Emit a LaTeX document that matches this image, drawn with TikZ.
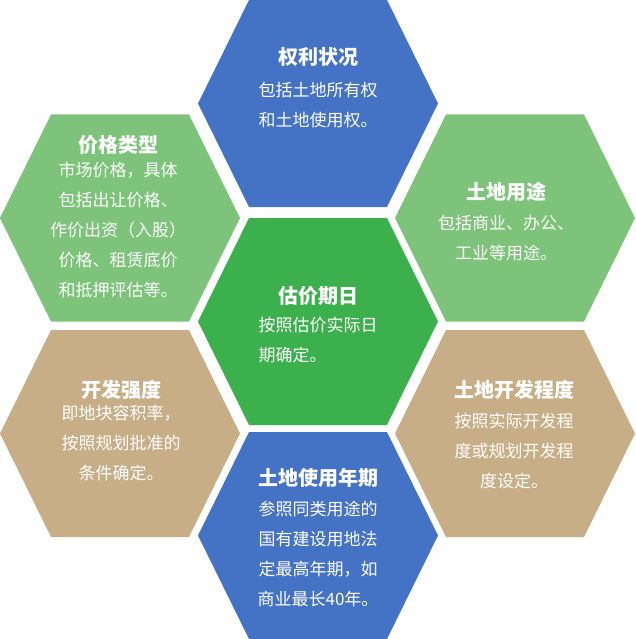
\documentclass[tikz,border=0pt]{standalone}
\usepackage{fontspec}
\setmainfont{Noto Sans CJK SC}
\begin{document}
\begin{tikzpicture}[x=1pt,y=-1pt,
  hexblue/.style={fill=hblue},
  ttl/.style={text=white,font=\fontsize{20}{24}\selectfont\bfseries,inner sep=0pt,anchor=center},
  bdy/.style={text=white,font=\fontsize{17}{30}\selectfont,inner sep=0pt,anchor=north,align=center},
  bdyl/.style={text=white,font=\fontsize{17}{30}\selectfont,inner sep=0pt,anchor=north,align=left}]
\definecolor{hblue}{HTML}{4472C4}
\definecolor{hgreen}{HTML}{3DB04E}
\definecolor{hlgreen}{HTML}{7DC47A}
\definecolor{htan}{HTML}{C8AE86}
\useasboundingbox (0,0) rectangle (635,639);
\newcommand{\hexat}[3]{\fill[#3] (#1-120,#2) -- (#1-69,#2-103.5) -- (#1+69,#2-103.5) -- (#1+120,#2) -- (#1+69,#2+103.5) -- (#1-69,#2+103.5) -- cycle;}
\hexat{318}{103.5}{hblue}
\hexat{120}{218}{hlgreen}
\hexat{515}{218}{hlgreen}
\hexat{318}{321.5}{hgreen}
\hexat{120}{433.5}{htan}
\hexat{515}{433.5}{htan}
\hexat{318}{535.5}{hblue}
% top
\node[ttl] (t1) at (318,57) {权利状况};
\node[bdyl] (b1) at (318,82) {包括土地所有权\\和土地使用权。};
% upper left
\node[ttl] (t2) at (118,145) {价格类型};
\node[bdy] (b2) at (118,162) {市场价格，具体\\包括出让价格、\\作价出资（入股）\\价格、租赁底价\\和抵押评估等。};
% upper right
\node[ttl] (t3) at (506,192) {土地用途};
\node[bdy] (b3) at (506,215) {包括商业、办公、\\工业等用途。};
% center
\node[ttl] (t4) at (318,296) {估价期日};
\node[bdyl] (b4) at (318,317) {按照估价实际日\\期确定。};
% lower left
\node[ttl] (t5) at (121,390) {开发强度};
\node[bdy] (b5) at (121,405) {即地块容积率，\\按照规划批准的\\条件确定。};
% lower right
\node[ttl] (t6) at (514,390) {土地开发程度};
\node[bdy] (b6) at (514,413) {按照实际开发程\\度或规划开发程\\度设定。};
% bottom
\node[ttl] (t7) at (318,478) {土地使用年期};
\node[bdy] (b7) at (318,501) {参照同类用途的\\国有建设用地法\\定最高年期，如\\商业最长40年。};
\end{tikzpicture}
\end{document}
